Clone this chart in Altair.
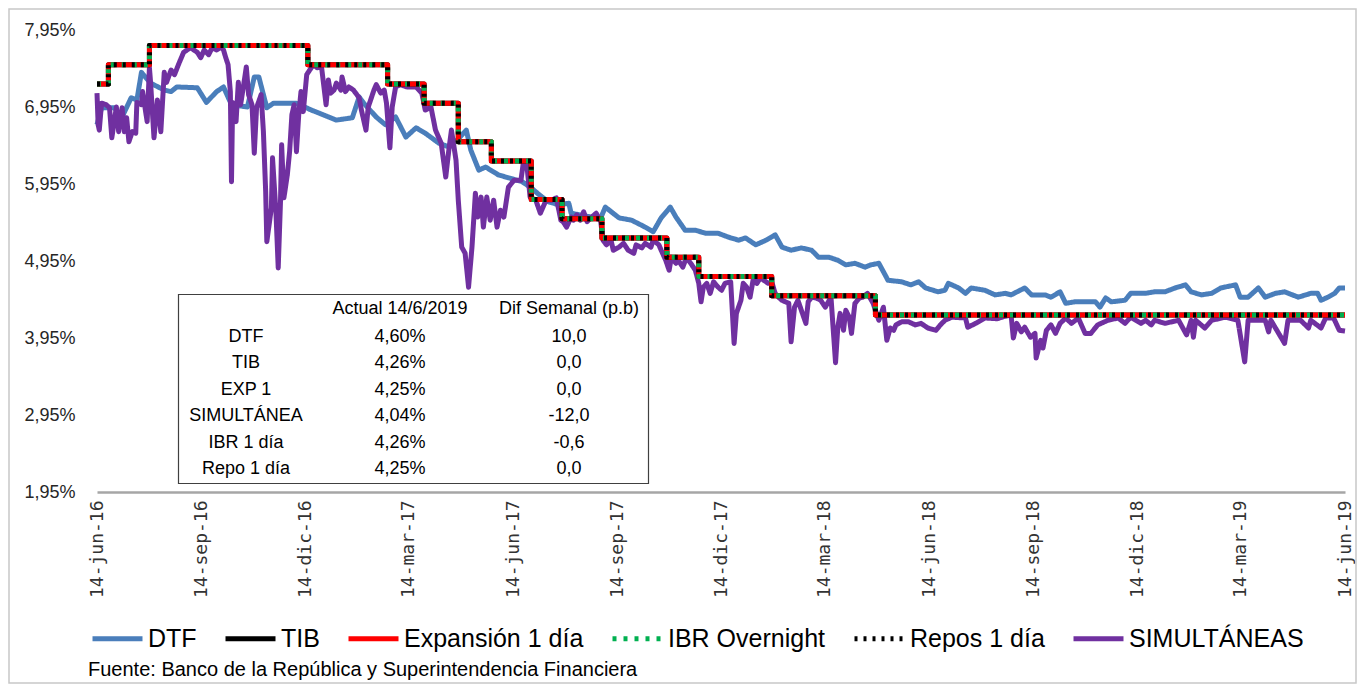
import altair as alt
import pandas as pd

START = pd.Timestamp("2016-06-14")
END = pd.Timestamp("2019-06-14")

# (days since 14-jun-2016, value in %)
dtf = [(0,6.72),(4,6.94),(15,6.94),(22,6.82),(30,7.07),(35,7.04),(39,7.40),(47,7.26),(59,7.17),(65,7.15),
       (70,7.21),(88,7.20),(96,7.01),(105,7.15),(111,7.21),(118,6.98),(132,6.95),(138,7.34),(142,7.34),(149,6.94),
       (155,7.00),(175,7.00),(188,6.91),(195,6.87),(210,6.78),(224,6.81),(230,7.08),(234,7.00),(245,6.82),(253,6.72),
       (262,6.82),(271,6.56),(280,6.68),(288,6.61),(300,6.48),(309,6.43),(316,6.52),(324,6.65),(328,6.39),(335,6.13),
       (341,6.17),(352,6.07),(361,6.03),(373,5.98),(381,5.90),(388,5.81),(396,5.72),(405,5.68),(414,5.70),(416,5.57),
       (434,5.52),(442,5.51),(446,5.65),(458,5.51),(469,5.48),(481,5.39),(488,5.33),(495,5.51),(503,5.65),(508,5.52),
       (516,5.35),(525,5.35),(534,5.31),(545,5.31),(554,5.26),(563,5.22),(569,5.25),(578,5.16),(587,5.22),(595,5.29),
       (601,5.13),(609,5.09),(618,5.12),(627,5.09),(633,5.00),(642,5.00),(650,4.96),(657,4.90),(665,4.92),(674,4.87),
       (679,4.90),(686,4.92),(694,4.70),(706,4.68),(714,4.64),(721,4.68),(727,4.60),(738,4.55),(744,4.57),(747,4.66),
       (756,4.60),(762,4.53),(767,4.60),(779,4.57),(788,4.51),(797,4.53),(802,4.51),(814,4.60),(820,4.51),(832,4.51),
       (837,4.48),(845,4.55),(850,4.40),(858,4.42),(876,4.42),(880,4.35),(885,4.47),(890,4.42),(902,4.44),(907,4.53),
       (920,4.53),(928,4.55),(937,4.55),(946,4.60),(955,4.64),(960,4.55),(969,4.51),(978,4.53),(986,4.60),(999,4.64),
       (1003,4.48),(1010,4.48),(1019,4.60),(1025,4.48),(1034,4.53),(1042,4.55),(1054,4.48),(1065,4.53),(1071,4.53),(1074,4.44),
       (1080,4.48),(1086,4.53),(1090,4.60),(1095,4.60)]

simultaneas = [(0,7.13),(1,6.72),(2,6.65),(4,7.00),(8,6.98),(11,6.94),(13,6.55),(17,6.95),(19,6.63),(22,6.94),
    (24,6.63),(26,6.81),(28,6.50),(31,6.63),(34,6.61),(35,7.01),(39,6.98),(40,7.15),(44,6.76),(46,7.46),
    (47,7.27),(50,6.55),(53,7.04),(56,6.63),(59,7.40),(61,7.27),(65,7.43),(68,7.37),(72,7.52),(76,7.66),
    (82,7.72),(88,7.66),(91,7.59),(94,7.69),(98,7.63),(101,7.72),(105,7.69),(109,7.73),(111,7.69),(113,7.59),
    (115,7.50),(117,7.15),(118,5.98),(119,7.01),(122,6.76),(124,7.27),(126,6.98),(129,7.27),(131,7.47),(133,7.11),
    (136,6.98),(138,6.35),(140,6.94),(144,7.11),(146,6.63),(148,5.85),(149,5.20),(153,5.64),(154,6.29),(157,5.59),
    (159,4.86),(161,5.72),(162,6.46),(164,5.77),(167,6.07),(169,6.37),(171,6.85),(173,6.98),(175,6.37),(177,6.85),
    (179,7.15),(181,6.89),(184,7.37),(188,7.46),(190,7.50),(193,7.46),(197,7.47),(201,6.98),(203,7.30),(205,7.13),
    (208,7.17),(210,7.26),(214,7.17),(215,7.34),(218,7.15),(221,7.21),(225,7.17),(230,7.07),(232,6.91),(236,6.65),
    (238,6.95),(243,7.17),(245,7.24),(249,7.13),(252,7.17),(254,7.00),(257,6.42),(259,6.95),(262,7.21),(266,7.24),
    (272,7.21),(280,7.21),(285,7.13),(288,6.91),(293,6.95),(297,6.65),(302,6.48),(306,6.04),(309,6.43),(311,6.65),
    (315,6.26),(317,5.74),(320,5.13),(323,5.05),(326,4.61),(329,5.13),(332,5.83),(334,5.52),(337,5.78),(339,5.39),
    (342,5.78),(345,5.48),(348,5.74),(351,5.39),(354,5.61),(357,5.52),(361,5.91),(366,6.00),(372,6.00),(374,6.22),
    (377,6.22),(380,5.78),(385,5.74),(389,5.57),(394,5.74),(399,5.74),(403,5.77),(407,5.48),(409,5.46),(412,5.39),
    (416,5.52),(418,5.48),(421,5.55),(424,5.48),(427,5.59),(430,5.46),(434,5.52),(438,5.57),(442,5.46),(444,5.22),
    (447,5.16),(451,5.22),(453,5.09),(458,5.13),(462,5.18),(466,5.09),(471,5.05),(473,5.16),(478,5.12),(481,5.18),
    (486,5.13),(488,5.22),(493,5.16),(495,5.09),(499,4.96),(502,4.83),(504,5.00),(508,4.92),(510,4.96),(514,4.87),
    (517,4.99),(521,4.92),(525,4.83),(528,4.66),(530,4.42),(532,4.61),(535,4.66),(538,4.53),(541,4.68),(545,4.61),
    (548,4.57),(551,4.66),(556,4.68),(559,3.88),(561,4.27),(565,4.44),(567,4.66),(570,4.61),(573,4.48),(576,4.73),
    (579,4.66),(582,4.73),(587,4.68),(589,4.66),(592,4.68),(595,4.53),(598,4.48),(601,4.44),(604,4.42),(607,4.40),
    (609,3.90),(612,4.35),(615,4.44),(618,4.31),(622,4.14),(624,4.42),(627,4.48),(631,4.47),(635,4.44),(639,4.35),
    (644,4.48),(648,3.63),(650,4.09),(652,4.27),(655,4.05),(657,4.31),(660,4.22),(662,4.01),(665,4.40),(669,4.47),
    (672,4.48),(676,4.53),(681,4.40),(686,4.18),(690,4.35),(693,3.92),(696,4.08),(699,4.05),(701,4.12),(706,4.16),
    (712,4.16),(718,4.12),(723,4.14),(729,4.08),(736,4.05),(740,4.12),(744,4.18),(750,4.22),(762,4.21),(764,4.09),
    (771,4.14),(779,4.21),(790,4.20),(796,4.23),(802,4.25),(804,3.95),(807,4.14),(811,4.03),(814,4.09),(819,3.96),
    (823,4.01),(824,3.69),(828,3.92),(830,3.82),(833,4.05),(837,4.12),(841,4.01),(845,4.14),(850,4.21),(855,4.14),
    (861,4.21),(867,4.01),(872,4.01),(878,4.12),(887,4.18),(896,4.21),(902,4.14),(907,4.22),(916,4.14),(920,4.18),
    (925,4.12),(928,4.18),(937,4.14),(949,4.18),(956,3.99),(960,4.18),(962,3.96),(964,4.18),(972,4.08),(978,4.18),
    (990,4.22),(1001,4.18),(1007,3.64),(1010,4.18),(1025,4.18),(1028,4.03),(1030,4.18),(1042,3.88),(1045,4.18),(1056,4.18),
    (1063,4.08),(1065,4.18),(1074,4.08),(1078,4.21),(1085,4.21),(1090,4.05),(1095,4.04)]

# policy-rate family (step series)
tasa_politica = [(0,7.25),(10,7.50),(46,7.75),(185,7.50),(255,7.25),(287,7.00),(317,6.50),(346,6.25),
                 (381,5.75),(408,5.50),(443,5.25),(500,5.00),(528,4.75),(592,4.50),(683,4.25),(1095,4.25)]

series = ["DTF", "TIB", "Expansión 1 día", "IBR Overnight", "Repos 1 día", "SIMULTÁNEAS"]
colores = ["#4A7EBB", "#000000", "#FF0000", "#00B050", "#000000", "#7030A0"]
grosores = [5, 5, 7, 5, 4, 2.5]
trazos = [[1, 0], [1, 0], [1, 0], [4, 7], [3, 6], [1, 0]]

tabla_nombres = ["DTF", "TIB", "EXP 1", "SIMULTÁNEA", "IBR 1 día", "Repo 1 día"]
tabla_actual = ["4,60%", "4,26%", "4,25%", "4,04%", "4,26%", "4,25%"]
tabla_dif = ["10,0", "0,0", "0,0", "-12,0", "-0,6", "0,0"]
tabla_encabezado = ["Actual 14/6/2019", "Dif Semanal (p.b)"]

y_ticks = [1.95, 2.95, 3.95, 4.95, 5.95, 6.95, 7.95]
x_ticks = ["2016-06-14", "2016-09-14", "2016-12-14", "2017-03-14", "2017-06-14", "2017-09-14", "2017-12-14",
           "2018-03-14", "2018-06-14", "2018-09-14", "2018-12-14", "2019-03-14", "2019-06-14"]


def frame(pairs, name):
    return pd.DataFrame({
        "fecha": [(START + pd.Timedelta(days=d)).strftime("%Y-%m-%d") for d, _ in pairs],
        "valor": [v for _, v in pairs],
        "serie": name,
    })


df = pd.concat([
    frame(dtf, "DTF"),
    frame(simultaneas, "SIMULTÁNEAS"),
    frame(tasa_politica, "TIB"),
    frame(tasa_politica, "Expansión 1 día"),
    frame(tasa_politica, "IBR Overnight"),
    frame(tasa_politica, "Repos 1 día"),
], ignore_index=True)


def ms(s):
    return int(pd.Timestamp(s).value // 10**6)


W, H = 1248, 462
FONT = "Liberation Sans"

x_enc = alt.X(
    "fecha:T",
    scale=alt.Scale(type="utc", domain=[ms(START), ms(END)]),
    axis=alt.Axis(
        values=[ms(t) for t in x_ticks],
        labelExpr="utcdate(datum.value) + '-' + ['ene','feb','mar','abr','may','jun','jul','ago','sep','oct','nov','dic'][utcmonth(datum.value)] + '-' + utcFormat(datum.value, '%y')",
        labelAngle=-90, labelFont="DejaVu Sans Mono", labelFontSize=18, labelColor="#333333",
        labelPadding=8, labelOverlap=False, labelFlush=False, labelBound=False,
        ticks=False, grid=False, domainColor="#a6a6a6", domainWidth=2.5, title=None,
    ),
)
y_enc = alt.Y(
    "valor:Q",
    scale=alt.Scale(domain=[1.95, 7.95], nice=False, zero=False),
    axis=alt.Axis(
        values=y_ticks,
        labelExpr="replace(format(datum.value, '.2f'), '.', ',') + '%'",
        labelFont=FONT, labelFontSize=18, labelColor="#262626", labelPadding=22,
        ticks=False, domain=False, grid=False, title=None,
    ),
)
leg = alt.Legend(
    title=None, orient="none", direction="horizontal", columns=6,
    legendX=-7, legendY=581,
    symbolType="stroke", symbolSize=2500, labelFont=FONT, labelFontSize=25, labelColor="#000000",
    labelLimit=500, labelOffset=3, columnPadding=18,
)
color_enc = alt.Color("serie:N", scale=alt.Scale(domain=series, range=colores), legend=leg)
dash_enc = alt.StrokeDash("serie:N", scale=alt.Scale(domain=series, range=trazos), legend=leg)
width_enc = alt.StrokeWidth("serie:N", scale=alt.Scale(domain=series, range=grosores), legend=leg)

base = alt.Chart(df)
orden = ["DTF", "SIMULTÁNEAS", "TIB", "Expansión 1 día", "IBR Overnight", "Repos 1 día"]
capas = []
for s in orden:
    interp = "linear" if s in ("DTF", "SIMULTÁNEAS") else "step-after"
    capas.append(
        base.transform_filter(alt.datum.serie == s)
        .mark_line(interpolate=interp, strokeJoin="round")
        .encode(x=x_enc, y=y_enc, color=color_enc, strokeDash=dash_enc, strokeWidth=width_enc)
    )

# table
filas = []
for i in range(len(tabla_nombres)):
    filas.append({"fila": i, "col": 0, "texto": tabla_nombres[i]})
    filas.append({"fila": i, "col": 1, "texto": tabla_actual[i]})
    filas.append({"fila": i, "col": 2, "texto": tabla_dif[i]})
for j, t in enumerate(tabla_encabezado):
    filas.append({"fila": -1, "col": j + 1, "texto": t})
tabla_df = pd.DataFrame(filas)

caja = alt.Chart(pd.DataFrame({"k": [0]})).mark_rect(
    fill="white", stroke="#404040", strokeWidth=1.2
).encode(x=alt.value(81.5), x2=alt.value(551.5), y=alt.value(264.5), y2=alt.value(453.5))

tabla = alt.Chart(tabla_df).transform_calculate(
    px="datum.col == 0 ? 149 : (datum.col == 1 ? 303 : 472)",
    py="datum.fila < 0 ? 279 : 307 + 26.4 * datum.fila",
).mark_text(font=FONT, fontSize=18, color="#000000", align="center", baseline="middle").encode(
    x=alt.X("px:Q", scale=None, axis=None),
    y=alt.Y("py:Q", scale=None, axis=None),
    text="texto:N",
)

fuente = alt.Chart(pd.DataFrame({"t": ["Fuente: Banco de la República y Superintendencia Financiera"]})).mark_text(
    font=FONT, fontSize=20, color="#000000", align="left", baseline="middle"
).encode(x=alt.value(-9), y=alt.value(640), text="t:N")

marco = alt.Chart(pd.DataFrame({"k": [0]})).mark_rect(
    fill=None, stroke="#c8c8c8", strokeWidth=1.5
).encode(x=alt.value(-88), x2=alt.value(1259), y=alt.value(-21), y2=alt.value(653))

chart = alt.layer(marco, *capas, caja, tabla, fuente).properties(
    width=W, height=H,
    padding={"left": 89, "top": 22, "right": 12, "bottom": 192},
    autosize=alt.AutoSizeParams(type="none"),
    background="white",
).configure_view(stroke=None)

chart.save("out.html", embed_options={"renderer": "svg", "actions": False})
